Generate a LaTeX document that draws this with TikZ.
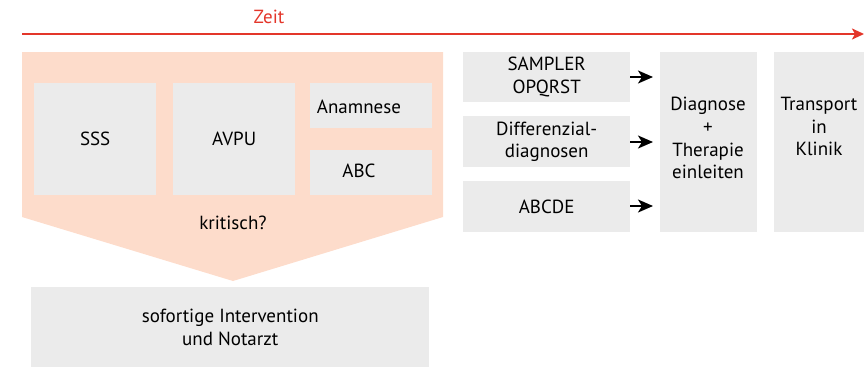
\documentclass[tikz,border=0pt]{standalone}
\usepackage{fontspec}
\setmainfont{PT Sans}
\usepackage{xcolor}
\usetikzlibrary{positioning,arrows.meta}

\definecolor{zeitrot}{HTML}{E3362A}
\definecolor{lachs}{HTML}{FDDCCB}
\definecolor{hellgrau}{HTML}{EBEBEB}

\tikzset{
  graybox/.style={fill=hellgrau, draw=none, inner sep=0pt, anchor=north west},
  txt/.style={align=center, inner sep=0pt, font=\fontsize{19}{22.7}\selectfont},
  pfeil/.style={-{Stealth[length=15pt,width=13pt,inset=4pt]}, line width=2pt, black, shorten >=7pt}
}

\begin{document}
\begin{tikzpicture}[x=1pt, y=-1pt]
\useasboundingbox (0,0) rectangle (864,378);

% Zeitachse
\coordinate (zstart) at (22,34);
\coordinate (zend) at (864,34);
\draw[zeitrot, line width=2.6pt, -{Stealth[length=12pt,width=11pt,inset=3pt]}] (zstart) -- (zend);
\node[txt, text=zeitrot] (zeit) at (269,17) {Zeit};

% Ersteinschaetzung (Pfeilform)
\fill[lachs] (22,52) -- (443,52) -- (443,217) -- (233,281) -- (22,217) -- cycle;

\node[graybox, minimum width=122pt, minimum height=112pt] (sss) at (34,83) {};
\node[txt] (ssstxt) at (sss.center) {SSS};
\node[graybox, minimum width=122pt, minimum height=112pt] (avpu) at (173,83) {};
\node[txt] (avputxt) at (avpu.center) {AVPU};
\node[graybox, minimum width=122pt, minimum height=45pt] (anam) at (310,83) {};
\node[txt] (anamtxt) at (359,107) {Anamnese};
\node[graybox, minimum width=122pt, minimum height=45pt] (abc) at (310,150) {};
\node[txt] (abctxt) at (359,171) {ABC};
\node[txt] (krit) at (233,223) {kritisch?};

% kritisch -> sofort
\node[graybox, minimum width=398pt, minimum height=80pt] (sofort) at (31,287) {};
\node[txt] (soforttxt) at (sofort.center) {sofortige Intervention\\und Notarzt};

% Weiterfuehrende Untersuchung
\node[graybox, minimum width=167pt, minimum height=50pt] (sampler) at (463,52) {};
\node[txt] (samplertxt) at (sampler.center) {SAMPLER\\OPQRST};
\node[graybox, minimum width=167pt, minimum height=51pt] (diff) at (463,116) {};
\node[txt] (difftxt) at (diff.center) {Differenzial-\\diagnosen};
\node[graybox, minimum width=167pt, minimum height=51pt] (abcde) at (463,181) {};
\node[txt] (abcdetxt) at (abcde.center) {ABCDE};

\node[graybox, minimum width=97pt, minimum height=180pt] (diag) at (660,52) {};
\node[txt, anchor=north] (diagtxt) at (708,97) {Diagnose\\+\\Therapie\\einleiten};
\node[graybox, minimum width=90pt, minimum height=180pt] (trans) at (774,52) {};
\node[txt, anchor=north] (transtxt) at (819,97) {Transport\\in\\Klinik};

% Pfeile
\foreach \quelle/\y in {sampler/77, diff/142, abcde/206} {
  \draw[pfeil] (\quelle.east |- 0,\y) -- (diag.west |- 0,\y);
}
\end{tikzpicture}
\end{document}
